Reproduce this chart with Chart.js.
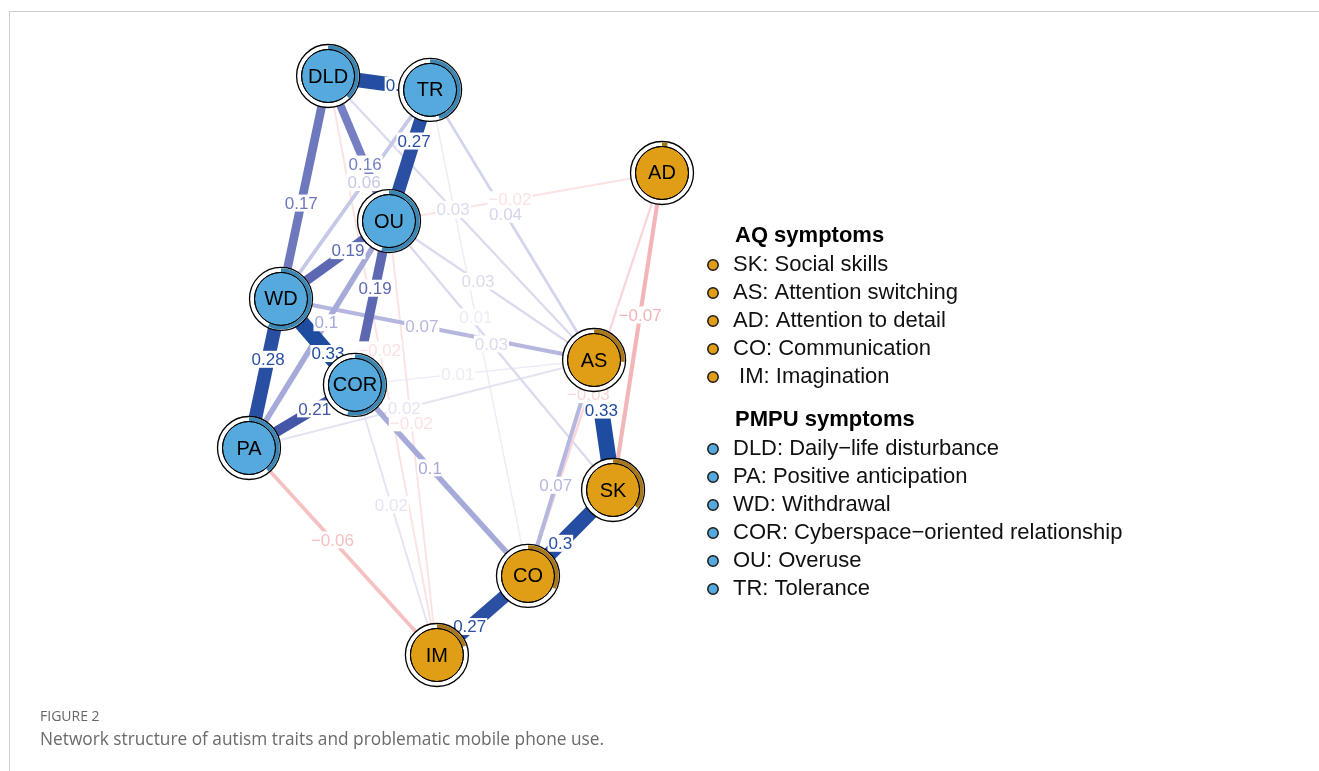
<!DOCTYPE html>
<html>
<head>
<meta charset="utf-8">
<title>Network structure of autism traits and problematic mobile phone use</title>
<script src="https://cdn.jsdelivr.net/npm/chart.js@4.4.1/dist/chart.umd.min.js"></script>
<style>
  html, body { margin: 0; padding: 0; background: #ffffff; width: 1319px; height: 771px; overflow: hidden; }
  #wrap { position: relative; width: 1319px; height: 771px; }
  #frame { position: absolute; left: 9px; top: 11px; right: 0; bottom: 0;
           border-top: 1px solid #cdcdcd; border-left: 1px solid #cdcdcd; }
  #net { position: absolute; left: 0; top: 0; }
  .fig-no { position: absolute; left: 40px; top: 706px; font: 14px "Open Sans", sans-serif; color: #666666; }
  .fig-cap { position: absolute; left: 40px; top: 727px; font: 17.3px "Open Sans", sans-serif; color: #6a6a6a; }
</style>
</head>
<body>
<div id="wrap">
  <div id="frame"></div>
  <canvas id="net" width="1319" height="771"></canvas>
  <div class="fig-no">FIGURE 2</div>
  <div class="fig-cap">Network structure of autism traits and problematic mobile phone use.</div>
</div>
<script>
// ---- Nodes (layout coordinates in [-1, 1]) ----
const nodeIds   = ['DLD', 'TR', 'OU', 'WD', 'COR', 'PA', 'AD', 'AS', 'SK', 'CO', 'IM'];
const nodeGroup = ['PMPU', 'PMPU', 'PMPU', 'PMPU', 'PMPU', 'PMPU', 'AQ', 'AQ', 'AQ', 'AQ', 'AQ'];
const nodeX     = [-0.617, -0.123, -0.322, -0.845, -0.487, -1.000, 1.000, 0.671, 0.763, 0.351, -0.090];
const nodeY     = [ 1.000,  0.952,  0.499,  0.230, -0.067, -0.285, 0.665, 0.019, -0.430, -0.727, -1.000];
// node predictability (share of the ring that is filled)
const predictability = [0.38, 0.45, 0.54, 0.57, 0.54, 0.39, 0.03, 0.26, 0.35, 0.32, 0.20];

// ---- Edges (partial correlations) ----
const edgeFrom   = ['DLD','TR','DLD','DLD','TR','WD','OU','WD','WD','PA','OU','WD','OU','DLD','TR','OU','AD','AD','AS','SK','CO','COR','AS','PA','COR','PA','OU','DLD','COR','OU','TR'];
const edgeTo     = ['TR','OU','WD','OU','WD','OU','COR','COR','PA','COR','PA','AS','AS','AS','AS','AD','SK','CO','SK','CO','IM','CO','CO','IM','AS','AS','IM','IM','IM','SK','CO'];
const edgeWeight = [0.3, 0.27, 0.17, 0.16, 0.06, 0.19, 0.19, 0.33, 0.28, 0.21, 0.1, 0.07, 0.03, 0.03, 0.04, -0.02, -0.07, -0.03, 0.33, 0.3, 0.27, 0.1, 0.07, -0.06, 0.01, 0.02, -0.02, -0.02, 0.02, 0.03, 0.01];
// where along each edge its weight label sits (0 = from-node, 1 = to-node)
const edgeLabelAt = [0.68, 0.39, 0.57, 0.607, 0.443, 0.62, 0.41, 0.635, 0.405, 0.62, 0.448, 0.45, 0.434, 0.47, 0.46, 0.443, 0.448, 0.55, 0.385, 0.62, 0.64, 0.434, 0.58, 0.444, 0.43, 0.45, 0.465, 0.473, 0.444, 0.457, 0.467];

// ---- Legend entries ----
const aqTitle   = 'AQ symptoms';
const aqItems   = ['SK: Social skills', 'AS: Attention switching', 'AD: Attention to detail', 'CO: Communication', ' IM: Imagination'];
const pmpuTitle = 'PMPU symptoms';
const pmpuItems = ['DLD: Daily\u2212life disturbance', 'PA: Positive anticipation', 'WD: Withdrawal', 'COR: Cyberspace\u2212oriented relationship', 'OU: Overuse', 'TR: Tolerance'];

// ---- Styling ----
const groupFill = { PMPU: '#56a9dc', AQ: '#df9e16' };
const groupRing = { PMPU: '#3b86b2', AQ: '#a9771b' };
const FONT = '"Liberation Sans", Arial, sans-serif';
const R_OUTER = 31.5, R_INNER = 26.5;

const posStops = [[0, [244,244,250]], [0.01, [236,236,246]], [0.02, [228,229,243]], [0.03, [218,219,238]], [0.06, [198,200,231]], [0.07, [181,183,222]],
                  [0.1, [166,170,216]], [0.17, [109,120,189]], [0.19, [93,104,179]], [0.21, [68,86,168]], [0.27, [43,79,163]], [0.33, [30,76,160]]];
const negStops = [[0, [253,240,240]], [0.02, [251,226,227]], [0.03, [249,214,216]], [0.06, [245,192,194]], [0.07, [243,181,184]]];

function edgeColor(w) {
  const a = Math.abs(w);
  const stops = w >= 0 ? posStops : negStops;
  if (a >= stops[stops.length - 1][0]) return 'rgb(' + stops[stops.length - 1][1].join(',') + ')';
  for (let i = 1; i < stops.length; i++) {
    if (a <= stops[i][0]) {
      const [a0, c0] = stops[i - 1], [a1, c1] = stops[i];
      const t = (a - a0) / (a1 - a0);
      return 'rgb(' + c0.map((v, k) => Math.round(v + (c1[k] - v) * t)).join(',') + ')';
    }
  }
}
const edgeWidth = w => 1 + 45 * Math.abs(w);
const labelText = w => String(w).replace('-', '\u2212');
const idx = id => nodeIds.indexOf(id);

// ---- Datasets ----
const edgeSets = edgeWeight.map((w, i) => {
  const a = idx(edgeFrom[i]), b = idx(edgeTo[i]);
  return {
    id: 'edge' + i,
    showLine: true,
    data: [{ x: nodeX[a], y: nodeY[a] }, { x: nodeX[b], y: nodeY[b] }],
    borderColor: edgeColor(w),
    borderWidth: edgeWidth(w),
    pointRadius: 0,
    clip: false,
    order: -Math.round(Math.abs(w) * 1000)
  };
});
const nodePoints = nodeIds.map((_, i) => ({ x: nodeX[i], y: nodeY[i] }));
const outerSet = {
  id: 'nodeOuter', data: nodePoints, pointRadius: R_OUTER, pointBackgroundColor: '#ffffff',
  pointBorderColor: '#000000', pointBorderWidth: 1.3, clip: false, order: -5000
};
const innerSet = {
  id: 'nodeInner', data: nodePoints, pointRadius: R_INNER,
  pointBackgroundColor: nodeGroup.map(g => groupFill[g]),
  pointBorderColor: '#000000', pointBorderWidth: 1, clip: false, order: -5001
};

// ---- Plugin: edge weight labels, predictability rings, node names and legend ----
const networkDecor = {
  id: 'networkDecor',
  beforeDatasetDraw(chart, args) {
    if (chart.data.datasets[args.index].id !== 'nodeOuter') return;
    const { ctx, scales: { x, y } } = chart;
    ctx.save();
    ctx.font = '17px ' + FONT;
    ctx.textAlign = 'center';
    ctx.textBaseline = 'middle';
    edgeWeight.forEach((w, i) => {
      const a = idx(edgeFrom[i]), b = idx(edgeTo[i]), t = edgeLabelAt[i];
      const px = x.getPixelForValue(nodeX[a] + (nodeX[b] - nodeX[a]) * t);
      const py = y.getPixelForValue(nodeY[a] + (nodeY[b] - nodeY[a]) * t);
      const txt = labelText(w);
      const tw = ctx.measureText(txt).width;
      ctx.fillStyle = '#ffffff';
      ctx.fillRect(px - tw / 2 - 1, py - 8.5, tw + 2, 17);
      ctx.fillStyle = edgeColor(w);
      ctx.fillText(txt, px, py + 1);
    });
    ctx.restore();
  },
  afterDatasetsDraw(chart) {
    const { ctx, scales: { x, y } } = chart;
    ctx.save();
    nodeIds.forEach((id, i) => {
      const px = x.getPixelForValue(nodeX[i]), py = y.getPixelForValue(nodeY[i]);
      ctx.beginPath();
      ctx.arc(px, py, 28.8, -Math.PI / 2, -Math.PI / 2 + 2 * Math.PI * predictability[i]);
      ctx.lineWidth = 3.8;
      ctx.strokeStyle = groupRing[nodeGroup[i]];
      ctx.stroke();
      ctx.beginPath();
      ctx.arc(px, py, R_INNER, 0, 2 * Math.PI);
      ctx.lineWidth = 1;
      ctx.strokeStyle = '#000000';
      ctx.stroke();
      ctx.fillStyle = '#000000';
      ctx.font = '20px ' + FONT;
      ctx.textAlign = 'center';
      ctx.textBaseline = 'middle';
      ctx.fillText(id, px, py + 1);
    });
    ctx.restore();
  },
  afterDraw(chart) {
    const ctx = chart.ctx;
    ctx.save();
    ctx.textBaseline = 'middle';
    ctx.textAlign = 'left';
    const drawBlock = (title, items, group, top) => {
      ctx.font = 'bold 22px ' + FONT;
      ctx.fillStyle = '#000000';
      ctx.fillText(title, 735, top);
      items.forEach((txt, k) => {
        const cy = top + 29 + k * 28;
        ctx.beginPath();
        ctx.arc(713, cy, 5.2, 0, 2 * Math.PI);
        ctx.fillStyle = groupFill[group];
        ctx.fill();
        ctx.lineWidth = 1.5;
        ctx.strokeStyle = '#1a1a1a';
        ctx.stroke();
        ctx.font = '22px ' + FONT;
        ctx.fillStyle = '#111111';
        ctx.fillText(txt, 733, cy);
      });
    };
    drawBlock(aqTitle, aqItems, 'AQ', 236);
    drawBlock(pmpuTitle, pmpuItems, 'PMPU', 420);
    ctx.restore();
  }
};

new Chart(document.getElementById('net'), {
  type: 'scatter',
  data: { datasets: [...edgeSets, outerSet, innerSet] },
  options: {
    responsive: false,
    animation: false,
    events: [],
    devicePixelRatio: 1,
    layout: { padding: { left: 249, right: 657, top: 76, bottom: 116 } },
    scales: {
      x: { type: 'linear', min: -1, max: 1, display: false },
      y: { type: 'linear', min: -1, max: 1, display: false }
    },
    plugins: { legend: { display: false }, tooltip: { enabled: false } }
  },
  plugins: [networkDecor]
});
</script>
</body>
</html>
